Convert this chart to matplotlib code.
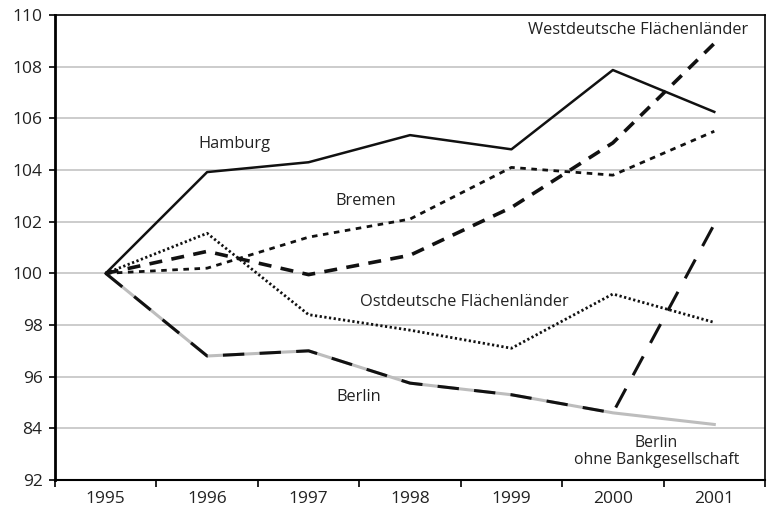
import matplotlib.pyplot as plt
import numpy as np

plt.rcParams['font.family'] = ['Open Sans', 'DejaVu Sans']

years = ["1995", "1996", "1997", "1998", "1999", "2000", "2001"]
hamburg = [100, 103.92, 104.3, 105.35, 104.8, 107.87, 106.25]
bremen = [100, 100.2, 101.4, 102.1, 104.1, 103.8, 105.5]
west = [100, 100.85, 99.95, 100.7, 102.55, 105.05, 108.9]
ost = [100, 101.55, 98.4, 97.8, 97.1, 99.2, 98.1]
berlin = [100, 96.8, 97.0, 95.75, 95.3, 94.6, 101.9]
berlin_ohne = [100, 96.8, 97.0, 95.75, 95.3, 94.6, 94.15]

yticks = [92, 94, 96, 98, 100, 102, 104, 106, 108, 110]
ylabels = ["92", "84", "96", "98", "100", "102", "104", "106", "108", "110"]

x = np.arange(len(years))

fig = plt.figure(figsize=(7.73, 5.13), dpi=100)
ax = fig.add_axes([55/773, 33/513, 710/773, 465/513])

for v in yticks[1:-1]:
    ax.axhline(v, color="#c4c4c4", lw=1.2, zorder=0)

ax.plot(x, berlin_ohne, color="#bdbdbd", lw=2.2, zorder=2)
ax.plot(x, berlin, color="#111111", lw=2.2, dashes=(7, 5), zorder=3)
ax.plot(x, hamburg, color="#111111", lw=1.8, zorder=3)
ax.plot(x, bremen, color="#111111", lw=2.0, dashes=(2, 2), zorder=3)
ax.plot(x, west, color="#111111", lw=2.6, dashes=(3.6, 2.6), zorder=3)
ax.plot(x, ost, color="#111111", lw=2.0, dashes=(0.8, 0.9), zorder=3)

fs = 11.8
ax.text(1.27, 105.0, "Hamburg", ha="center", va="center", fontsize=fs, color="#222222")
ax.text(2.56, 102.8, "Bremen", ha="center", va="center", fontsize=fs, color="#222222")
ax.text(5.25, 109.4, "Westdeutsche Flächenländer", ha="center", va="center", fontsize=fs, color="#222222")
ax.text(3.54, 98.9, "Ostdeutsche Flächenländer", ha="center", va="center", fontsize=fs, color="#222222")
ax.text(2.49, 95.2, "Berlin", ha="center", va="center", fontsize=fs, color="#222222")
ax.text(5.43, 93.1, "Berlin\nohne Bankgesellschaft", ha="center", va="center", fontsize=11.3,
        color="#222222", linespacing=1.05)

ax.set_xlim(-0.5, 6.5)
ax.set_ylim(92, 110)
ax.set_yticks(yticks)
ax.set_yticklabels(ylabels)
ax.set_xticks(x)
ax.set_xticklabels(years)
ax.set_xticks(np.arange(-0.5, 7, 1), minor=True)
ax.tick_params(axis="x", which="major", length=0, pad=8, labelsize=12.5, labelcolor="#222222")
ax.tick_params(axis="x", which="minor", length=5, width=1.2, direction="out")
ax.tick_params(axis="y", length=4, width=1.2, pad=5, labelsize=12.5, labelcolor="#222222")

ax.spines["left"].set_linewidth(2.0)
ax.spines["bottom"].set_linewidth(1.5)
ax.spines["top"].set_linewidth(1.2)
ax.spines["right"].set_linewidth(1.2)

fig.savefig("out.png", dpi=100)
